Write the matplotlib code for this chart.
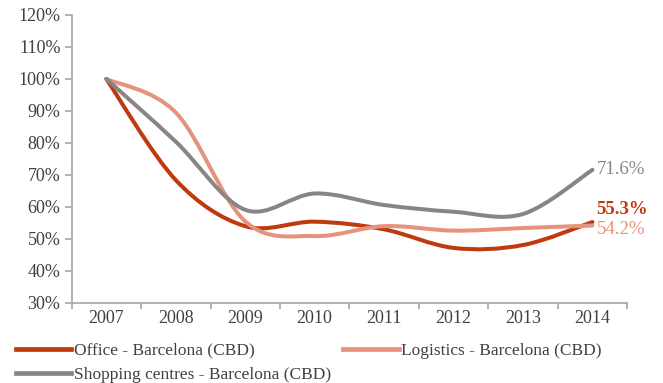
import matplotlib.pyplot as plt
import numpy as np
from matplotlib.path import Path
from matplotlib.patches import PathPatch
from matplotlib.lines import Line2D

plt.rcParams['font.family'] = ['Liberation Serif', 'DejaVu Serif']

years = ['2007', '2008', '2009', '2010', '2011', '2012', '2013', '2014']
office = [100, 68.4, 54.0, 55.4, 53.0, 47.2, 48.1, 55.3]
logistics = [100, 89.5, 55.5, 50.9, 54.0, 52.6, 53.4, 54.2]
shopping = [100, 80.4, 59.1, 64.2, 60.6, 58.5, 57.8, 71.6]

c_office = '#BF3A0E'
c_logistics = '#E6937E'
c_shopping = '#8A8584'
axis_grey = '#A6A6A6'
text_grey = '#404040'


def smooth_path(x, y):
    # bezier segments through every point, same idea as spreadsheet "smoothed line"
    x = np.asarray(x, float)
    y = np.asarray(y, float)
    n = len(x)
    verts = [(x[0], y[0])]
    codes = [Path.MOVETO]
    for i in range(n - 1):
        p0 = np.array([x[max(i - 1, 0)], y[max(i - 1, 0)]])
        p1 = np.array([x[i], y[i]])
        p2 = np.array([x[i + 1], y[i + 1]])
        p3 = np.array([x[min(i + 2, n - 1)], y[min(i + 2, n - 1)]])
        c1 = p1 + (p2 - p0) / 6
        c2 = p2 - (p3 - p1) / 6
        verts += [tuple(c1), tuple(c2), tuple(p2)]
        codes += [Path.CURVE4] * 3
    return Path(verts, codes)


fig = plt.figure(figsize=(6.63, 3.83), dpi=100)
ax = fig.add_axes([0.108, 0.209, 0.838, 0.752])

xs = np.arange(len(years))
for vals, col in [(office, c_office), (logistics, c_logistics), (shopping, c_shopping)]:
    ax.add_patch(PathPatch(smooth_path(xs, vals), facecolor='none', edgecolor=col,
                           lw=2.9, capstyle='round', joinstyle='round'))

ax.set_xlim(-0.5, len(years) - 0.5)
ax.set_ylim(30, 120)
ax.set_yticks(np.arange(30, 121, 10))
ax.set_yticklabels([f'{v}%' for v in range(30, 121, 10)])
ax.set_xticks(xs)
ax.set_xticklabels(years)
ax.set_xticks(np.arange(-0.5, len(years)), minor=True)
ax.tick_params(axis='x', which='major', length=0, pad=5)
ax.tick_params(axis='x', which='minor', length=4, color=axis_grey, width=1.2)
ax.tick_params(axis='y', length=5, color=axis_grey, width=1.2, pad=3)
ax.tick_params(labelsize=13, labelcolor=text_grey)
for s in ['top', 'right']:
    ax.spines[s].set_visible(False)
for s in ['left', 'bottom']:
    ax.spines[s].set_color(axis_grey)
    ax.spines[s].set_linewidth(1.2)

# end-of-series value labels
last = len(years) - 1
ax.annotate(f'{shopping[-1]}%', (last, shopping[-1]), xytext=(3, 0), textcoords='offset points',
            va='center', ha='left', fontsize=13.5, color=c_shopping)
ax.annotate(f'{office[-1]}%', (last, office[-1]), xytext=(3, 9), textcoords='offset points',
            va='center', ha='left', fontsize=13.5, fontweight='bold', color=c_office)
ax.annotate(f'{logistics[-1]}%', (last, logistics[-1]), xytext=(3, -3), textcoords='offset points',
            va='center', ha='left', fontsize=13.5, color=c_logistics)

handles = [Line2D([], [], color=c_office, lw=3.4),
           Line2D([], [], color=c_shopping, lw=3.4),
           Line2D([], [], color=c_logistics, lw=3.4)]
labels = ['Office - Barcelona (CBD)', 'Shopping centres - Barcelona (CBD)',
          'Logistics - Barcelona (CBD)']
fig.legend(handles, labels, loc='lower left', bbox_to_anchor=(0.0, -0.04), ncol=2,
           frameon=False, fontsize=12.5, handlelength=3.2, handletextpad=0.15,
           columnspacing=0.7, labelspacing=0.45, labelcolor=text_grey)

fig.savefig('out.png', dpi=100)
